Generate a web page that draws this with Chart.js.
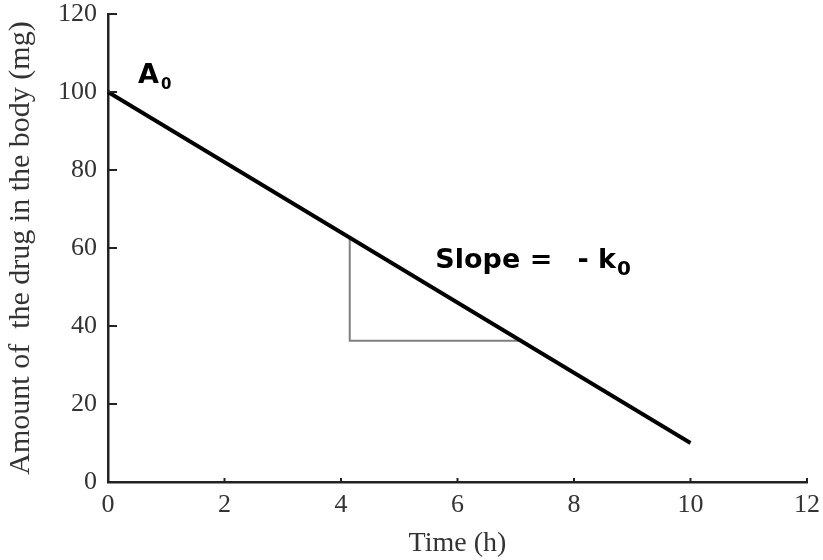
<!DOCTYPE html>
<html>
<head>
<meta charset="utf-8">
<script src="https://cdn.jsdelivr.net/npm/chart.js@4/dist/chart.umd.min.js"></script>
<style>
html,body{margin:0;padding:0;background:#fff;}
#wrap{width:823px;height:560px;position:relative;}
</style>
</head>
<body>
<div id="wrap"><canvas id="c" width="823" height="560"></canvas></div>
<script>
// Data
const timeH = [0, 10];
const amountMg = [100, 10];
const triangleX = [4.15, 4.15, 7.08];
const triangleY = [62.6, 36.2, 36.2];
const xTicks = [0, 2, 4, 6, 8, 10, 12];
const yTicks = [0, 20, 40, 60, 80, 100, 120];

const serif = "'Liberation Serif', 'Times New Roman', serif";
const sans = "'DejaVu Sans', Verdana, sans-serif";

const tickMarks = {
  id: 'tickMarks',
  afterDraw(chart) {
    const ctx = chart.ctx, xs = chart.scales.x, ys = chart.scales.y;
    const a = chart.chartArea;
    ctx.save();
    ctx.strokeStyle = '#222';
    ctx.lineWidth = 2;
    yTicks.forEach(v => {
      const py = ys.getPixelForValue(v);
      ctx.beginPath(); ctx.moveTo(a.left, py); ctx.lineTo(a.left + 9, py); ctx.stroke();
    });
    xTicks.forEach(v => {
      const px = xs.getPixelForValue(v);
      ctx.beginPath(); ctx.moveTo(px, a.bottom); ctx.lineTo(px, a.bottom - 4); ctx.stroke();
    });
    // annotations anchored in data space
    ctx.fillStyle = '#000';
    ctx.textBaseline = 'alphabetic';
    ctx.textAlign = 'left';
    // A0
    let x = xs.getPixelForValue(0.515), y = ys.getPixelForValue(102.3);
    ctx.font = "bold 27px " + sans;
    ctx.fillText('A', x, y);
    let w = ctx.measureText('A').width;
    ctx.font = "bold 15px " + sans;
    ctx.fillText('0', x + w + 2, y + 6);
    // Slope = - k0
    x = xs.getPixelForValue(5.62); y = ys.getPixelForValue(54.9);
    ctx.font = "bold 27px " + sans;
    ctx.fillText('Slope =', x, y);
    x = xs.getPixelForValue(8.06);
    ctx.fillText('- k', x, y);
    w = ctx.measureText('- k').width;
    ctx.font = "bold 20px " + sans;
    ctx.fillText('0', x + w + 1, y + 7);
    ctx.restore();
  }
};

new Chart(document.getElementById('c'), {
  type: 'scatter',
  data: {
    datasets: [
      {
        data: timeH.map((t, i) => ({x: t, y: amountMg[i]})),
        showLine: true, borderColor: '#000', borderWidth: 3.8,
        pointRadius: 0, clip: false, order: 0
      },
      {
        data: triangleX.map((t, i) => ({x: t, y: triangleY[i]})),
        showLine: true, borderColor: '#808080', borderWidth: 2,
        pointRadius: 0, clip: false, order: 1
      }
    ]
  },
  options: {
    responsive: false,
    animation: false,
    events: [],
    layout: {padding: {left: 0, right: 16, top: 14, bottom: 0}},
    plugins: {legend: {display: false}, tooltip: {enabled: false}},
    scales: {
      x: {
        type: 'linear', min: 0, max: 12,
        afterFit(s) { s.height = 78; s.paddingLeft = 0; s.paddingRight = 0; },
        afterBuildTicks(s) { s.ticks = xTicks.map(v => ({value: v})); },
        grid: {display: false, drawTicks: false},
        border: {display: true, color: '#222', width: 2.5},
        ticks: {color: '#333', font: {family: serif, size: 26}, padding: 8, maxRotation: 0},
        title: {display: true, text: 'Time (h)', color: '#333', font: {family: serif, size: 28}, padding: 0}
      },
      y: {
        type: 'linear', min: 0, max: 120,
        afterFit(s) { s.width = 108; s.paddingTop = 0; s.paddingBottom = 0; },
        afterBuildTicks(s) { s.ticks = yTicks.map(v => ({value: v})); },
        grid: {display: false, drawTicks: false},
        border: {display: true, color: '#222', width: 2.5},
        ticks: {color: '#333', font: {family: serif, size: 26}, padding: 11},
        title: {display: true, text: 'Amount of  the drug in the body (mg)', color: '#333', font: {family: serif, size: 30}, padding: {top: 3, bottom: 0}}
      }
    }
  },
  plugins: [tickMarks]
});
</script>
</body>
</html>
